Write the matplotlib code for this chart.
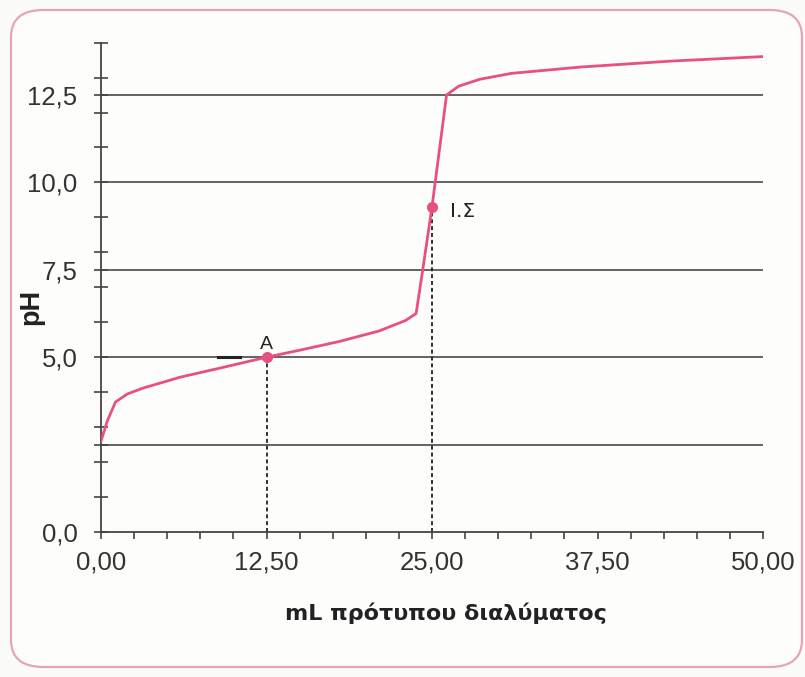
import matplotlib
matplotlib.use("Agg")
import matplotlib.pyplot as plt
from matplotlib.patches import FancyBboxPatch
from matplotlib.ticker import FixedLocator, FuncFormatter

# Titration curve: pH vs volume of standard solution (mL)
volume_ml = [0, 0.5, 1.1, 2.0, 3.2, 6.0, 9.0, 12.5, 15.0, 18.0, 21.0, 23.0, 23.8,
             24.3, 25.0, 26.1, 27.0, 28.6, 31.0, 36.2, 43.0, 50.0]
ph_values = [2.6, 3.2, 3.72, 3.95, 4.12, 4.43, 4.69, 5.0, 5.2, 5.45, 5.75, 6.05, 6.25,
             7.5, 9.3, 12.5, 12.75, 12.95, 13.12, 13.3, 13.47, 13.6]

# Marked points: half-equivalence (A) and equivalence point (Ι.Σ)
point_labels = ["A", "Ι.Σ"]
point_x = [12.5, 25.0]
point_y = [5.0, 9.3]

grid_levels = [2.5, 5.0, 7.5, 10.0, 12.5]
y_label_ticks = [0.0, 5.0, 7.5, 10.0, 12.5]
y_minor_ticks = [1, 2, 2.5, 3, 4, 6, 7, 8, 9, 11, 12, 13, 14]
x_label_ticks = [0, 12.5, 25, 37.5, 50]
x_minor_ticks = [2.5, 5, 7.5, 10, 15, 17.5, 20, 22.5, 27.5, 30, 32.5, 35, 40, 42.5, 45, 47.5]

curve_color = "#e8507f"
fig = plt.figure(figsize=(8.05, 6.77), dpi=100)
fig.patch.set_facecolor("#fbfbf9")

# rounded frame around the chart
frame = FancyBboxPatch((11 / 805, 10 / 677), (791 / 805), (657 / 677),
                       boxstyle="round,pad=0,rounding_size=0.04",
                       transform=fig.transFigure, facecolor="#fdfdfc",
                       edgecolor="#e8a3b8", linewidth=1.6, zorder=-10)
fig.patches.append(frame)

ax = fig.add_axes([101 / 805, 145 / 677, 662 / 805, 489.4 / 677])
ax.set_zorder(5)
ax.set_facecolor("none")
ax.set_xlim(0, 50)
ax.set_ylim(0, 14)

for s in ["top", "right"]:
    ax.spines[s].set_visible(False)
for s in ["left", "bottom"]:
    ax.spines[s].set_color("#444444")
    ax.spines[s].set_linewidth(1.3)

for lvl in grid_levels:
    ax.axhline(lvl, color="#4a4a48", linewidth=1.2, zorder=1)

# dashed drop lines from the marked points
for xv, yv in zip(point_x, point_y):
    ax.plot([xv, xv], [0, yv], color="#222222", linewidth=1.3,
            linestyle=(0, (2.2, 1.6)), zorder=2)

# short dark segment on the pH 5 line, left of A
ax.plot([8.8, 10.5], [5.0, 5.0], color="#222222", linewidth=2.2, zorder=2)

ax.plot(volume_ml, ph_values, color=curve_color, linewidth=2.0, zorder=3,
        solid_joinstyle="round")
ax.plot(point_x, point_y, "o", color=curve_color, markersize=8, zorder=4,
        markeredgewidth=0)

ax.annotate(point_labels[0], (point_x[0], point_y[0]), xytext=(0, 3),
            textcoords="offset points", ha="center", va="bottom",
            fontsize=14, color="#222222", family="Liberation Sans")
ax.annotate(point_labels[1], (point_x[1], point_y[1]), xytext=(13, -3),
            textcoords="offset points", ha="left", va="center",
            fontsize=14.5, color="#222222", family="DejaVu Sans")

ax.yaxis.set_major_locator(FixedLocator(y_label_ticks))
ax.yaxis.set_minor_locator(FixedLocator(y_minor_ticks))
ax.yaxis.set_major_formatter(FuncFormatter(lambda v, p: f"{v:.1f}".replace(".", ",")))
ax.tick_params(axis="y", which="both", direction="inout", length=10, width=1.2,
               color="#444444")
ax.tick_params(axis="y", which="major", pad=12, labelsize=18.5, labelcolor="#333333")

ax.xaxis.set_major_locator(FixedLocator(x_label_ticks))
ax.xaxis.set_minor_locator(FixedLocator(x_minor_ticks))
ax.xaxis.set_major_formatter(FuncFormatter(lambda v, p: f"{v:.2f}".replace(".", ",")))
ax.tick_params(axis="x", which="both", direction="out", length=5, width=1.2,
               color="#444444")
ax.tick_params(axis="x", which="major", pad=8, labelsize=18.5, labelcolor="#333333")

for lbl in ax.get_xticklabels() + ax.get_yticklabels():
    lbl.set_family("Liberation Sans")

ax.set_xlabel("mL πρότυπου διαλύματος", fontsize=16, fontweight="bold",
              family="DejaVu Sans", color="#222222")
ax.xaxis.set_label_coords(0.521, -0.145)
ax.set_ylabel("pH", fontsize=19.5, fontweight="bold", family="Liberation Sans",
              color="#222222")
ax.yaxis.set_label_coords(-0.085, 0.46)

fig.savefig("out.png", dpi=100, facecolor=fig.get_facecolor())
